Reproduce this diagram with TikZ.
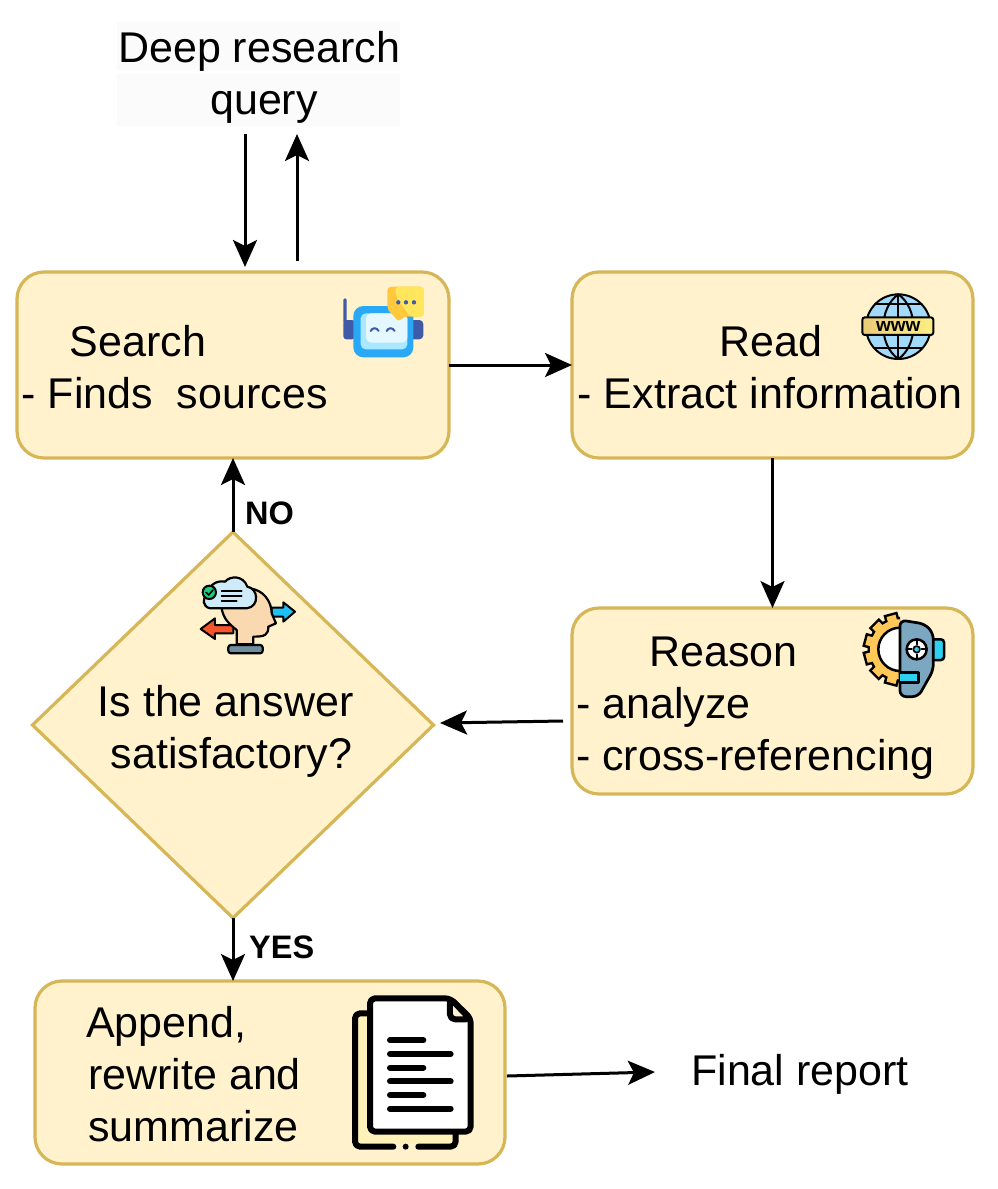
\documentclass[tikz,border=0pt]{standalone}
\usepackage{fontspec}
\setmainfont{Liberation Sans}
\usetikzlibrary{arrows.meta,shapes.geometric,calc}
\definecolor{boxfill}{HTML}{FFF2CC}
\definecolor{boxline}{HTML}{D6B656}
\definecolor{robotdark}{HTML}{3F5AA6}
\definecolor{robotblue}{HTML}{29A8F5}
\definecolor{bubblea}{HTML}{FFC83D}
\definecolor{bubbleb}{HTML}{FFE65C}
\definecolor{screena}{HTML}{A9E8FF}
\definecolor{screenb}{HTML}{E5F7FF}
\definecolor{globeblue}{HTML}{A3D9FB}
\definecolor{banda}{HTML}{EBCB78}
\definecolor{bandb}{HTML}{FBEE85}
\definecolor{gearyellow}{HTML}{FFC857}
\definecolor{faceblue}{HTML}{7BA7C0}
\definecolor{cyanpart}{HTML}{2DD0F0}
\definecolor{cloudblue}{HTML}{CFEBFA}
\definecolor{tickgreen}{HTML}{1FCB7C}
\definecolor{peach}{HTML}{FBD9B0}
\definecolor{basegrey}{HTML}{6E8D9E}
\definecolor{arrowblue}{HTML}{1EC0F5}
\definecolor{arrowred}{HTML}{F4552A}
\definecolor{backpage}{HTML}{FFF2B8}
\tikzset{
  flowbox/.style={draw=boxline,fill=boxfill,line width=3.2pt,rounded corners=27pt,inner sep=0pt,outer sep=0pt},
  decision/.style={diamond,draw=boxline,fill=boxfill,line width=3.2pt,inner sep=0pt,outer sep=0pt},
  lbl/.style={font=\fontsize{43}{52}\selectfont,anchor=base west,inner sep=0pt,align=left},
  tag/.style={font=\fontsize{32.5}{36}\bfseries\selectfont,anchor=base west,inner sep=0pt},
  flow/.style={draw=black,line width=3pt,-{Stealth[length=27pt,width=24pt,inset=6pt]}},
  ink/.style={draw=black,line join=round,line cap=round}
}
\begin{document}
\begin{tikzpicture}[x=1pt,y=-1pt]
\useasboundingbox (0,0) rectangle (998,1189);
\fill[white] (0,0) rectangle (998,1189);
% query background
\fill[black!1.5] (117,22) rectangle (400,70);
\fill[black!1.5] (117,74) rectangle (400,126);
% boxes
\node[flowbox,minimum width=432pt,minimum height=186pt] (search) at (233,365) {};
\node[flowbox,minimum width=401pt,minimum height=186pt] (read) at (772.5,365) {};
\node[flowbox,minimum width=401pt,minimum height=186pt] (reason) at (772.5,701) {};
\node[decision,minimum width=401pt,minimum height=386pt] (check) at (233,725) {};
\node[flowbox,minimum width=470pt,minimum height=183pt] (append) at (270,1072.5) {};
% labels (anchored on the baseline of their last line)
\node[lbl] (querytxt) at (118,114.5) {Deep research\\\hspace*{92pt}query};
\node[lbl] (searchtxt) at (21.5,408.5) {\hspace*{48pt}Search\\- Finds\ \ sources};
\node[lbl] (readtxt) at (577.5,408.5) {\hspace*{142pt}Read\\- Extract information};
\node[lbl] (reasontxt) at (576,770.5) {\hspace*{73pt}Reason\\- analyze\\- cross-referencing};
\node[lbl] (checktxt) at (97.5,768.5) {Is the answer\\\hspace*{13pt}satisfactory?};
\node[lbl] (appendtxt) at (86,1141.5) {Append,\\\hspace*{2pt}rewrite and\\\hspace*{2pt}summarize};
\node[lbl] (finaltxt) at (691,1085.5) {Final report};
\node[tag] (notag) at (245,524) {NO};
\node[tag] (yestag) at (249,958) {YES};
% connector ends
\coordinate (qdownA) at (245,134);
\coordinate (qdownB) at (245,267);
\coordinate (qupA) at (297,261);
\coordinate (qupB) at (297,134);
\coordinate (rsnA) at (563,721);
\coordinate (rsnB) at (440,723);
\coordinate (finA) at (507,1076);
\coordinate (finB) at (655,1072);
% connectors
\draw[flow] (qdownA) -- (qdownB);
\draw[flow] (qupA) -- (qupB);
\draw[flow] (search.east) -- (read.west);
\draw[flow] (read.south) -- (reason.north);
\draw[flow] (rsnA) -- (rsnB);
\draw[flow] (check.north) -- (search.south);
\draw[flow] (check.south) -- (check.south |- append.north);
\draw[flow] (finA) -- (finB);
% robot icon
\begin{scope}[shift={(330,270)},x=0.3333pt,y=-0.3333pt]
  \fill[robotdark,rounded corners=1.5pt] (40,85) rectangle (50,160);
  \fill[robotdark,rounded corners=3pt] (40,150) rectangle (75,208);
  \fill[robotdark,rounded corners=4pt] (240,150) rectangle (280,208);
  \fill[robotblue,rounded corners=10pt] (70,108) rectangle (250,262);
  \fill[screena,rounded corners=5pt] (92,130) rectangle (232,238);
  \fill[screenb,rounded corners=5pt] (108,130) rectangle (232,218);
  \draw[robotdark,line width=2pt,line cap=round] (122,183) .. controls (127,172) and (140,172) .. (146,183);
  \draw[robotdark,line width=2pt,line cap=round] (170,183) .. controls (175,172) and (188,172) .. (194,183);
  \fill[bubblea,rounded corners=4pt] (172,50) -- (282,50) -- (282,140) -- (220,140) -- (205,157) -- (190,135) -- (172,120) -- cycle;
  \fill[bubbleb,rounded corners=4pt] (195,50) -- (282,50) -- (282,140) -- (240,140) -- (230,125) -- (200,85) -- cycle;
  \foreach \dx in {205,228,252} \fill[robotdark] (\dx,97) circle[radius=6.5pt*0.3333];
\end{scope}
% globe icon
\begin{scope}[shift={(850,280)},x=0.3333pt,y=-0.3333pt]
  \fill[globeblue] (145,140) circle[radius=97pt*0.3333];
  \draw[ink,line width=2pt] (145,140) circle[radius=97pt*0.3333];
  \draw[ink,line width=2pt] (145,43) -- (145,237);
  \draw[ink,line width=2pt] (145,43) .. controls (85,85) and (85,195) .. (145,237);
  \draw[ink,line width=2pt] (145,43) .. controls (205,85) and (205,195) .. (145,237);
  \draw[ink,line width=2pt] (75,72) -- (215,72);
  \draw[ink,line width=2pt] (75,205) -- (215,205);
  \draw[line width=2pt,draw=black,left color=banda,right color=bandb,rounded corners=2.5pt] (37,112) rectangle (250,165);
  \node[font=\fontsize{19}{20}\bfseries\selectfont,inner sep=0pt] (wwwtxt) at (145,138) {www};
\end{scope}
% gear and robot face icon
\begin{scope}[shift={(850,610)},x=0.3333pt,y=-0.3333pt]
  \begin{scope}
    \clip (0,0) rectangle (150,300);
    \foreach \a in {15,45,...,345} {
      \draw[black,line width=5pt,fill=black,rotate around={\a:(150,118)}] (136,14) rectangle (164,30);
    }
    \draw[black,line width=5pt] (150,118) circle[radius=90pt*0.3333];
    \foreach \a in {15,45,...,345} {
      \fill[gearyellow,rotate around={\a:(150,118)}] (136,14) rectangle (164,40);
    }
    \fill[gearyellow] (150,118) circle[radius=90pt*0.3333];
    \draw[black,line width=2.5pt,fill=white] (150,118) circle[radius=65pt*0.3333];
  \end{scope}
  \draw[line width=2.5pt,draw=black,fill=cyanpart,rounded corners=3pt] (250,88) -- (282,88) -- (282,150) -- (250,150);
  \draw[ink,line width=2.7pt,fill=faceblue,rounded corners=6pt] (150,30) -- (225,42) -- (250,70) -- (250,180) -- (205,260) -- (150,260) -- cycle;
  \draw[ink,line width=2.7pt,fill=cyanpart] (150,187) -- (205,187) -- (205,218) -- (150,218);
  \draw[ink,line width=2.5pt,fill=white] (200,118) circle[radius=30pt*0.3333];
  \draw[ink,line width=2pt] (200,88) -- (200,103);
  \draw[ink,line width=2pt] (200,133) -- (200,148);
  \draw[ink,line width=2pt] (170,118) -- (185,118);
  \draw[ink,line width=2pt] (215,118) -- (230,118);
  \draw[ink,line width=1.6pt,fill=cyanpart] (200,118) circle[radius=10pt*0.3333];
\end{scope}
% head icon
\begin{scope}[shift={(190,565)},x=0.3333pt,y=-0.3333pt]
  \draw[ink,line width=2pt,fill=arrowblue] (245,128) -- (280,128) -- (280,112) -- (315,140) -- (280,170) -- (280,155) -- (245,155) -- cycle;
  \draw[ink,line width=2pt,fill=arrowred] (130,180) -- (75,180) -- (75,160) -- (32,192) -- (75,222) -- (75,205) -- (130,205) -- cycle;
  \draw[ink,line width=2.2pt,fill=peach] (175,70) .. controls (220,72) and (245,110) .. (245,145) -- (258,175) -- (235,185) .. controls (235,210) and (225,215) .. (190,215) -- (190,238) -- (140,238) -- (140,195) .. controls (115,175) and (100,160) .. (95,130) -- cycle;
  \draw[ink,line width=2.2pt,fill=basegrey,rounded corners=2.5pt] (115,240) rectangle (218,265);
  \draw[ink,line width=2.2pt,fill=cloudblue] (60,130) .. controls (38,125) and (35,100) .. (52,90) .. controls (55,60) and (80,45) .. (105,50) .. controls (120,32) and (160,30) .. (172,65) .. controls (205,70) and (210,125) .. (170,130) -- cycle;
  \draw[ink,line width=2pt,fill=tickgreen] (58,82) circle[radius=20pt*0.3333];
  \draw[ink,line width=1.6pt] (48,82) -- (56,90) -- (69,75);
  \draw[ink,line width=1.7pt] (95,77) -- (155,77);
  \draw[ink,line width=1.7pt] (95,92) -- (155,92);
  \draw[ink,line width=1.7pt] (95,108) -- (140,108);
\end{scope}
% document icon
\begin{scope}[shift={(340,985)},x=0.3333pt,y=-0.3333pt]
  \fill[backpage] (42,82) rectangle (350,488);
  \fill[boxfill] (160,478) rectangle (235,492);
  \draw[ink,line width=6pt,rounded corners=5pt] (90,85) -- (45,85) -- (45,485) -- (160,485);
  \draw[ink,line width=6pt,rounded corners=5pt] (235,485) -- (347,485) -- (347,440);
  \fill[black] (197,485) circle[radius=9pt*0.3333];
  \draw[ink,line width=6pt,fill=white,rounded corners=5pt] (90,40) -- (330,40) -- (392,100) -- (392,440) -- (90,440) -- cycle;
  \draw[ink,line width=6pt,fill=boxfill,rounded corners=5pt] (330,40) -- (330,103) -- (392,103) -- cycle;
  \foreach \yy/\xx in {166/250,207/332,248/250,289/332,330/250,371/332}
    \draw[ink,line width=6pt] (150,\yy) -- (\xx,\yy);
\end{scope}
\end{tikzpicture}
\end{document}
